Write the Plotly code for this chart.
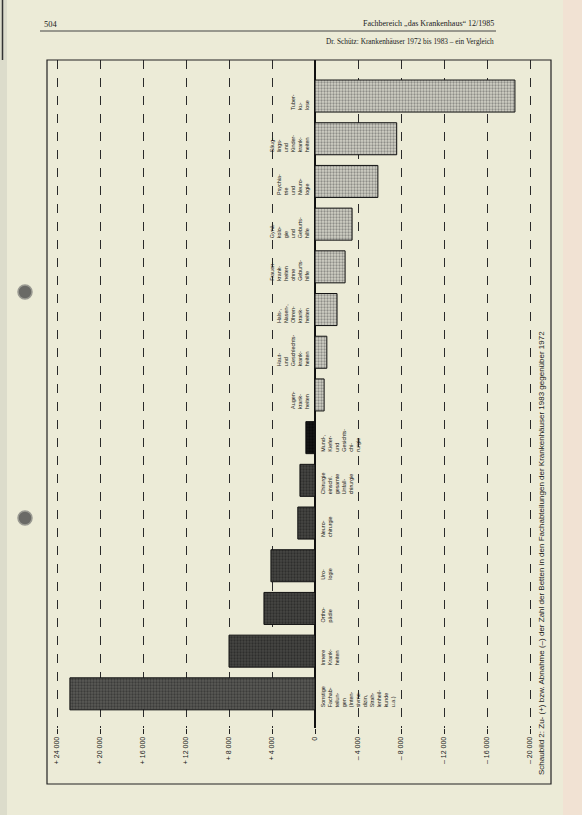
import plotly.graph_objects as go

# ---------------- data ----------------
categories = [
    "Sonstige<br>Fachab-<br>teilun-<br>gen<br>(Inten-<br>sivme-<br>dizin,<br>Strah-<br>lenheil-<br>kunde<br>u.a.)",
    "Innere<br>Krank-<br>heiten",
    "Ortho-<br>pädie",
    "Uro-<br>logie",
    "Neuro-<br>chirurgie",
    "Chirurgie<br>einschl.<br>gesamte<br>Unfall-<br>chirurgie",
    "Mund-,<br>Kiefer-<br>und<br>Gesichts-<br>chi-<br>rurgie",
    "Augen-<br>krank-<br>heiten",
    "Haut-<br>und<br>Geschlechts-<br>krank-<br>heiten",
    "Hals-,<br>Nasen-,<br>Ohren-<br>krank-<br>heiten",
    "Frauen-<br>krank-<br>heiten<br>ohne<br>Geburts-<br>hilfe",
    "Gynä-<br>kolo-<br>gie<br>und<br>Geburts-<br>hilfe",
    "Psychia-<br>trie<br>und<br>Neuro-<br>logie",
    "Säug-<br>lings-<br>und<br>Kinder-<br>krank-<br>heiten",
    "Tuber-<br>ku-<br>lose",
]
values = [22800, 8000, 4750, 4100, 1600, 1400, 850,
          -850, -1100, -2050, -2800, -3450, -5850, -7600, -18600]
tick_values = [24000, 20000, 16000, 12000, 8000, 4000, 0,
               -4000, -8000, -12000, -16000, -20000]
tick_labels = ["+ 24 000", "+ 20 000", "+ 16 000", "+ 12 000", "+ 8 000", "+ 4 000", "0",
               "– 4 000", "– 8 000", "– 12 000", "– 16 000", "– 20 000"]
title_text = ("Schaubild 2: Zu- (+) bzw. Abnahme (–) der Zahl der Betten in den "
              "Fachabteilungen der Krankenhäuser 1983 gegenüber 1972")
header_left = "504"
header_right = "Fachbereich „das Krankenhaus“ 12/1985"
header_sub = "Dr. Schütz: Krankenhäuser 1972 bis 1983 – ein Vergleich"

# ---------------- layout geometry ----------------
W, H = 582, 815
L, R, T, B = 47, 31, 60, 87
pw, ph = W - L - R, H - T - B
zero_px = 315 - L
px_per_1000 = 10.75
x_left = zero_px / px_per_1000 * 1000
x_right = -(pw - zero_px) / px_per_1000 * 1000


def px(x):
    return (x - L) / pw


def py(y):
    return (T + ph - y) / ph


paper = "#ecebd7"
ypos = list(range(len(values)))

# bar groups: (indices, fill, dot colour)
groups = [
    ([0], "#5a5a56", "#1e1e1e"),
    ([1, 2, 3, 4, 5], "#474744", "#151515"),
    ([6], "#161616", "#000000"),
    ([i for i, v in enumerate(values) if v < 0], "#d2d1c6", "#4a4a4a"),
]

fig = go.Figure()
for idx, fill, dots in groups:
    fig.add_trace(go.Bar(
        x=[values[i] for i in idx], y=[ypos[i] for i in idx],
        orientation="h", width=0.75,
        marker=dict(
            color=fill,
            line=dict(color="#111111", width=1),
            pattern=dict(shape=".", fgcolor=dots, size=3, solidity=0.45, fillmode="overlay"),
        ),
        hoverinfo="skip", showlegend=False,
    ))

annotations = []
for i, (c, v) in enumerate(zip(categories, values)):
    annotations.append(dict(
        x=0, y=i - 0.375, xref="x", yref="y", text=c, showarrow=False,
        textangle=-90, align="left",
        xanchor="left" if v > 0 else "right",
        yanchor="bottom",
        xshift=3 if v > 0 else -3,
        font=dict(family="Liberation Sans, Arial, sans-serif", size=5.4, color="#1a1a1a"),
    ))

annotations.append(dict(
    x=px(541), y=py(777), xref="paper", yref="paper", text=title_text,
    showarrow=False, textangle=-90, xanchor="center", yanchor="bottom",
    font=dict(family="Liberation Sans, Arial, sans-serif", size=8, color="#1a1a1a"),
))
annotations.append(dict(
    x=px(42), y=py(24), xref="paper", yref="paper", text=header_left,
    showarrow=False, xanchor="left", yanchor="middle",
    font=dict(family="Liberation Serif, Times New Roman, serif", size=8.5, color="#222222"),
))
annotations.append(dict(
    x=px(496), y=py(24), xref="paper", yref="paper", text=header_right,
    showarrow=False, xanchor="right", yanchor="middle",
    font=dict(family="Liberation Serif, Times New Roman, serif", size=8, color="#222222"),
))
annotations.append(dict(
    x=px(496), y=py(41), xref="paper", yref="paper", text=header_sub,
    showarrow=False, xanchor="right", yanchor="middle",
    font=dict(family="Liberation Serif, Times New Roman, serif", size=7.3, color="#222222"),
))

shapes = [
    dict(type="rect", xref="paper", yref="paper", x0=px(563), x1=px(582), y0=py(815), y1=py(0),
         fillcolor="#f1e2d3", line=dict(width=0), layer="below"),
    dict(type="rect", xref="paper", yref="paper", x0=px(0), x1=px(7), y0=py(815), y1=py(0),
         fillcolor="#dcdccb", line=dict(width=0), layer="below"),
    dict(type="line", xref="paper", yref="paper", x0=px(2.5), x1=px(2.5), y0=py(60), y1=py(0),
         line=dict(color="#333333", width=1.5)),
    dict(type="line", xref="paper", yref="paper", x0=px(40), x1=px(496), y0=py(31), y1=py(31),
         line=dict(color="#444444", width=1)),
    dict(type="rect", xref="paper", yref="paper", x0=0, x1=1, y0=py(784), y1=py(60),
         line=dict(color="#222222", width=1.2), fillcolor="rgba(0,0,0,0)"),
    dict(type="circle", xref="paper", yref="paper", x0=px(18), x1=px(32), y0=py(299), y1=py(285),
         fillcolor="#6a6a66", line=dict(color="#9a9a92", width=1.5)),
    dict(type="circle", xref="paper", yref="paper", x0=px(18), x1=px(32), y0=py(525), y1=py(511),
         fillcolor="#6a6a66", line=dict(color="#9a9a92", width=1.5)),
]

fig.update_layout(
    width=W, height=H,
    margin=dict(l=L, r=R, t=T, b=B),
    paper_bgcolor=paper, plot_bgcolor=paper,
    barmode="overlay",
    xaxis=dict(
        range=[x_left, x_right], tickmode="array", tickvals=tick_values, ticktext=tick_labels,
        tickangle=-90, ticks="outside", ticklen=5, tickcolor="#222222",
        tickfont=dict(family="Liberation Sans, Arial, sans-serif", size=7, color="#1a1a1a"),
        showgrid=True, gridcolor="#2a2a2a", gridwidth=1, griddash="dash",
        zeroline=True, zerolinecolor="#111111", zerolinewidth=1.6,
        showline=False, fixedrange=True,
    ),
    yaxis=dict(
        range=[-0.8, (ph / 42.7) - 0.8], showticklabels=False, showgrid=False,
        zeroline=False, showline=False, ticks="", fixedrange=True,
    ),
    annotations=annotations,
    shapes=shapes,
)

fig.write_html("out.html",
               config={"displayModeBar": False},
               post_script="document.body.style.margin='0';document.body.style.background='%s';" % paper)
